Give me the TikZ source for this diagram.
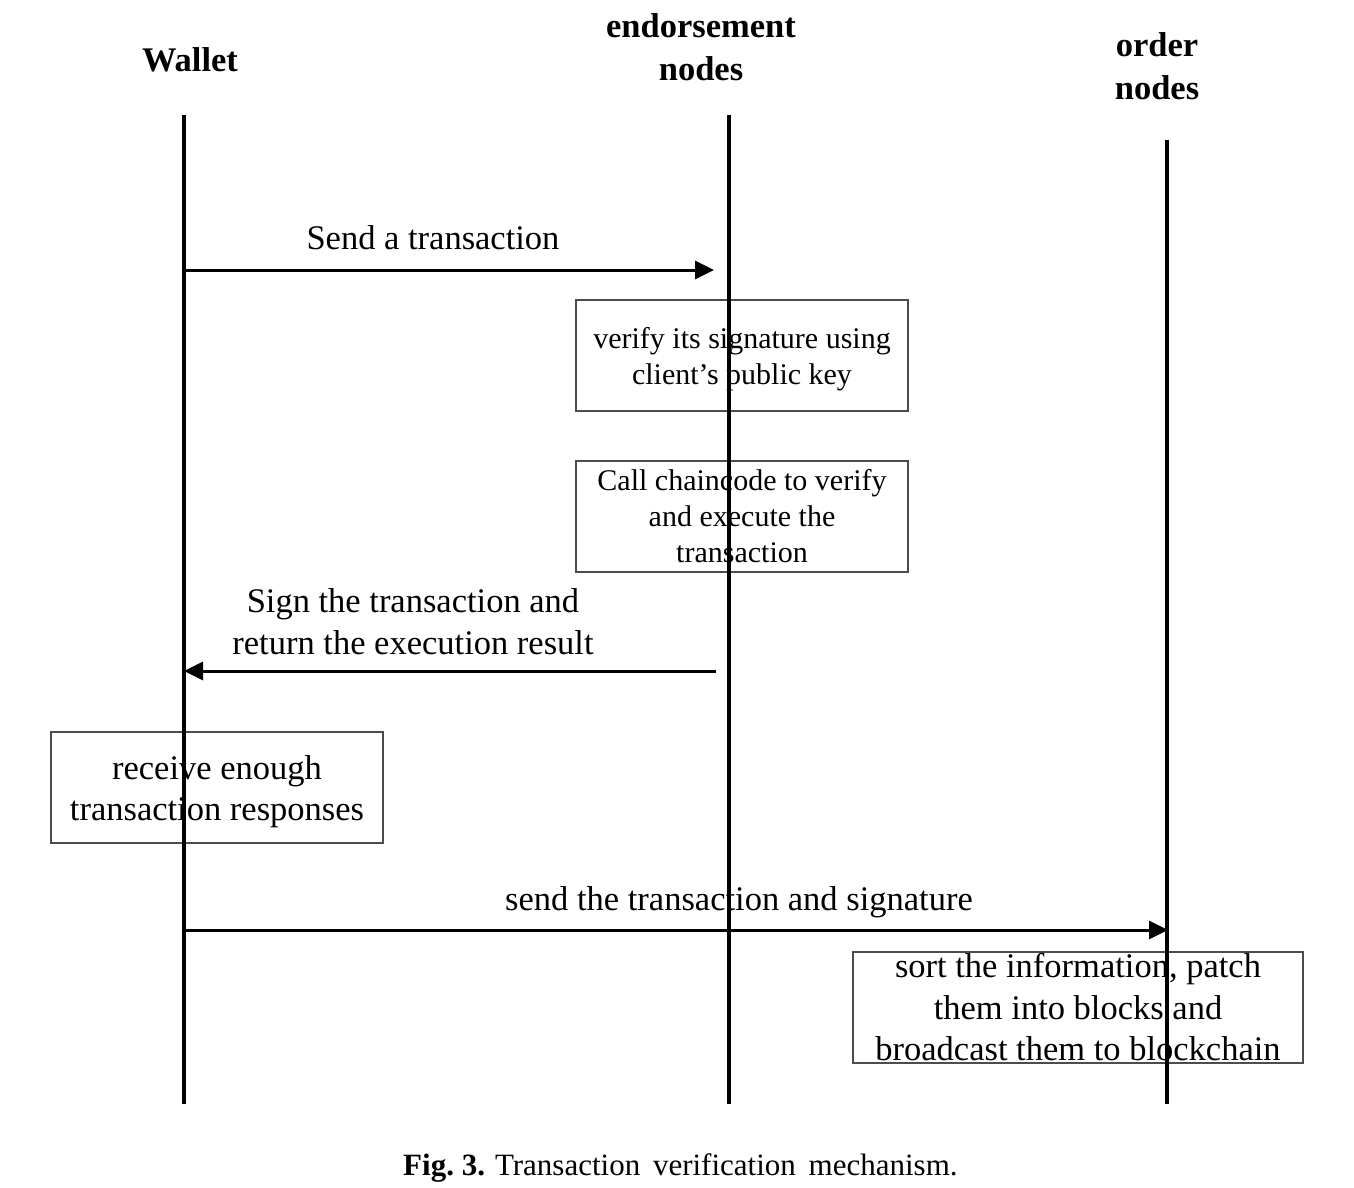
\documentclass[tikz,border=0pt]{standalone}
\usepackage{fontspec}
\setmainfont{Liberation Serif}
\usetikzlibrary{arrows.meta}
\tikzset{
  life/.style={line width=3.6pt},
  msg/.style={line width=3pt,-{Triangle[length=19pt,width=18pt]}},
  actbox/.style={draw=black!70,line width=2pt,inner sep=0pt},
  boxtext/.style={inner sep=0pt,align=center},
  head/.style={font=\fontsize{34.5}{42.5}\selectfont\bfseries,align=center,inner sep=0pt},
  lbl/.style={font=\fontsize{34.5}{42}\selectfont,align=center,inner sep=0pt},
  smalltxt/.style={font=\fontsize{30}{36}\selectfont},
  bigtxt/.style={font=\fontsize{34.5}{41.5}\selectfont}
}
\begin{document}
\begin{tikzpicture}[x=1pt,y=-1pt]
\useasboundingbox (0,0) rectangle (1354,1187);
% headers
\node[head] (hw) at (190,60) {Wallet};
\node[head] (he) at (701,47) {endorsement\\nodes};
\node[head] (ho) at (1157,66) {order\\nodes};
% lifeline ends
\coordinate (wt) at (184,115);
\coordinate (wb) at (184,1104);
\coordinate (et) at (729,115);
\coordinate (eb) at (729,1104);
\coordinate (ot) at (1167,140);
\coordinate (ob) at (1167,1104);
% boxes
\node[actbox,minimum width=332pt,minimum height=111pt] (b1) at (742,355.5) {};
\node[boxtext,smalltxt] (t1) at ([yshift=-3.5pt]b1.center) {verify its signature using\\client's public key};
\node[actbox,minimum width=332pt,minimum height=111pt] (b2) at (742,516.5) {};
\node[boxtext,smalltxt] (t2) at (b2.center) {Call chaincode to verify\\and execute the\\transaction};
\node[actbox,minimum width=332pt,minimum height=111pt] (b3) at (217,787.5) {};
\node[boxtext,bigtxt] (t3) at ([yshift=-4pt]b3.center) {receive enough\\transaction responses};
\node[actbox,minimum width=450pt,minimum height=111pt] (b4) at (1078,1007.5) {};
\node[boxtext,bigtxt] (t4) at (b4.center) {sort the information, patch\\them into blocks and\\broadcast them to blockchain};
% lifelines
\draw[life] (wt) -- (wb);
\draw[life] (et) -- (eb);
\draw[life] (ot) -- (ob);
% message anchors
\coordinate (m1s) at (184,270);
\coordinate (m1e) at (714,270);
\coordinate (m2s) at (716,671);
\coordinate (m2e) at (184,671);
\coordinate (m3s) at (184,930);
\coordinate (m3e) at (1168,930);
\draw[msg] (m1s) -- (m1e);
\draw[msg] (m2s) -- (m2e);
\draw[msg] (m3s) -- (m3e);
% labels
\node[lbl] (l1) at (433,238) {Send a transaction};
\node[lbl] (l2) at (413,622) {Sign the transaction and\\return the execution result};
\node[lbl] (l3) at (739,902) {send the transaction and signature};
% caption
\node[inner sep=0pt,anchor=west,font=\fontsize{31}{36}\selectfont] (cap) at (403,1168) {\textbf{Fig.\ 3.}\hspace{10pt}Transaction\hspace{5pt} verification\hspace{5pt} mechanism.};
\end{tikzpicture}
\end{document}
